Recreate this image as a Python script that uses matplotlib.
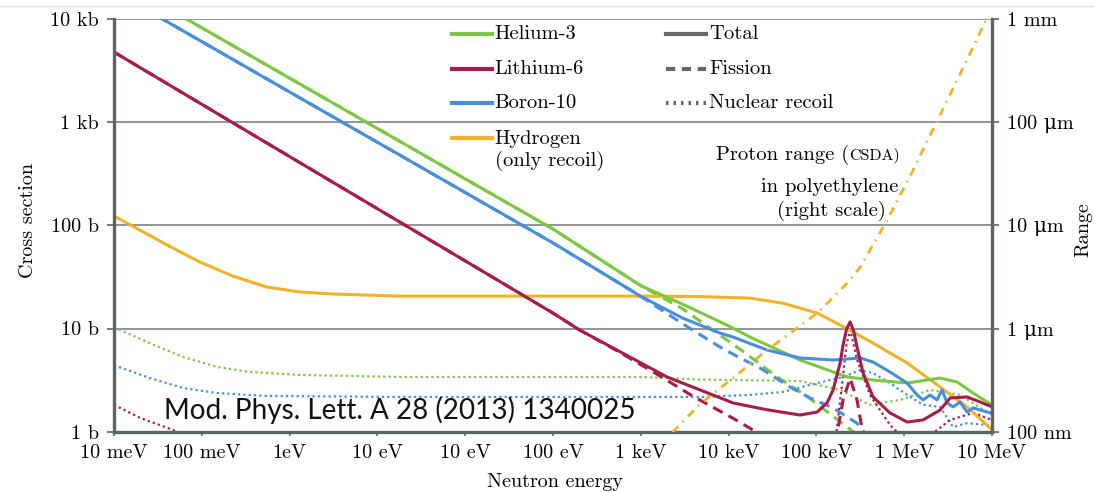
import matplotlib.pyplot as plt
from matplotlib.lines import Line2D
from matplotlib.ticker import NullLocator

plt.rcParams['font.family'] = ['cmr10', 'DejaVu Serif']
plt.rcParams['axes.formatter.use_mathtext'] = True

# ---------------- data (energies in eV on the plotted axis, cross sections in barn) ----------------
x_ticks = [1e-2, 1e-1, 1e0, 1e1, 1e2, 1e3, 1e4, 1e5, 1e6, 1e7, 1e8]
x_labels = ["10 meV", "100 meV", "1eV", "10 eV", "10 eV", "100 eV", "1 keV",
            "10 keV", "100 keV", "1 MeV", "10 MeV"]
y_ticks = [1, 10, 100, 1000, 10000]
y_labels = ["1 b", "10 b", "100 b", "1 kb", "10 kb"]
r_ticks = [0.1, 1, 10, 100, 1000]
r_labels = ["100 nm", "1 \u03bcm", "10 \u03bcm", "100 \u03bcm", "1 mm"]

he3_total_E = [0.01, 1, 100, 1000, 1e4, 3e4, 1e5, 1.75e5, 6.5e5, 2.23e6, 4.41e6,
               1.08e7, 1.82e7, 2.56e7, 4e7, 6.08e7, 1e8]
he3_total = [25300, 2670, 282, 92, 26, 17.2, 10.6, 8.27, 4.95, 3.39, 3.17,
             2.96, 3.17, 3.31, 3.03, 2.37, 1.81]
he3_fis_E = [0.01, 1, 100, 1000, 1e4, 3e4, 1.46e5, 3.56e5, 7.81e5, 1.86e6, 4.07e6]
he3_fis = [25300, 2670, 282, 92, 26, 15.5, 6.0, 3.4, 2.2, 1.25, 0.75]
he3_rec_E = [0.01, 0.0257, 0.0611, 0.149, 0.354, 1.31, 18.1, 1e4, 4.72e4, 6.5e5,
             1.86e6, 4.07e6, 8.95e6, 1.97e7, 4.32e7, 1e8]
he3_rec = [10.3, 7.19, 5.30, 4.24, 3.79, 3.55, 3.39, 3.39, 3.2, 3.1,
           2.54, 1.82, 2.03, 2.54, 2.27, 1.45]

li6_total_E = [0.01, 1, 100, 1000, 2000, 1.99e4, 4.72e4, 1.12e5, 2.74e5, 6.5e5,
               1.02e6, 1.32e6, 1.55e6, 1.86e6, 2.01e6, 2.2e6, 2.42e6, 2.65e6,
               2.9e6, 3.4e6, 4.41e6, 6.89e6, 1.08e7, 1.64e7, 2.56e7, 3.33e7,
               5.19e7, 7.3e7, 1e8]
li6_total = [4780, 464, 45.2, 14.1, 9.69, 3.39, 2.54, 1.90, 1.63, 1.45,
             1.55, 1.90, 2.54, 4.63, 6.92, 9.8, 11.6, 9.5,
             6.58, 3.71, 2.17, 1.52, 1.24, 1.30, 1.62, 2.12,
             2.17, 1.94, 1.74]
li6_fis_E = [0.01, 1, 100, 1000, 2000, 4.82e3, 1.38e4, 3.94e4, 1.12e5, 1.75e5,
             2.95e5, 6e5, 1.2e6, 1.67e6, 2.01e6, 2.42e6, 2.9e6, 3.48e6, 5e6]
li6_fis = [4780, 464, 45.2, 14.1, 9.69, 6.4, 3.8, 2.2, 1.35, 1.08,
           0.8, 0.45, 0.45, 0.83, 2.03, 3.29, 2.03, 0.83, 0.45]
li6_rec_E = [0.01, 0.0198, 0.047, 0.1, 1, 1e6, 1.67e6, 2.01e6, 2.2e6, 2.42e6,
             2.65e6, 2.9e6, 4.07e6, 6.89e6, 1.02e7, 1.5e7, 2.24e7, 3.33e7, 6.08e7, 1e8]
li6_rec = [1.82, 1.36, 1.04, 0.7, 0.3, 0.3, 0.9, 3.5, 7.0, 9.7,
           7.0, 5.0, 2.27, 1.16, 0.83, 0.8, 1.0, 1.3, 1.52, 1.30]

b10_total_E = [0.01, 1, 100, 1000, 1e4, 3e4, 7.98e4, 1.12e5, 2.74e5, 6.5e5,
               1.55e6, 3.14e6, 4.41e6, 6.89e6, 1.08e7, 1.4e7, 1.64e7, 1.97e7,
               2.36e7, 2.69e7, 3.07e7, 3.6e7, 4.32e7, 5.19e7, 6.08e7, 8.77e7, 1e8]
b10_total = [18600, 1960, 208, 67.5, 20.5, 12.6, 9.03, 8.27, 6.19, 5.18,
             4.95, 5.18, 4.73, 3.79, 2.96, 2.27, 2.03, 2.27,
             2.03, 2.54, 1.90, 1.74, 1.94, 1.55, 1.70, 1.55, 1.52]
b10_fis_E = [0.01, 1, 100, 1000, 1e4, 3e4, 7.98e4, 1.35e5, 2.28e5, 5.01e5,
             8.45e5, 1.55e6, 2.23e6, 2.9e6, 4.1e6]
b10_fis = [18600, 1960, 208, 67.5, 20.5, 11.1, 6.61, 5.18, 4.14, 2.71,
           2.12, 1.70, 1.39, 1.21, 0.83]
b10_rec_E = [0.01, 0.0257, 0.0611, 0.149, 0.553, 18.1, 4.72e4, 1.75e5, 4.17e5,
             1.02e6, 2.01e6, 3.14e6, 4.41e6, 6.89e6, 1.08e7, 1.64e7, 2.56e7,
             3.6e7, 5.19e7, 1e8]
b10_rec = [4.4, 3.31, 2.65, 2.37, 2.22, 2.17, 2.17, 2.27, 2.43,
           2.96, 3.39, 3.96, 3.70, 2.96, 2.27, 1.82, 1.74,
           1.11, 1.21, 1.15]

h_rec_E = [0.01, 0.0198, 0.0402, 0.0953, 0.226, 0.553, 1.31, 3.12, 18.1, 1e4,
           4.72e4, 1.75e5, 4.17e5, 1.02e6, 1.86e6, 4.41e6, 1.08e7, 2.56e7, 5.19e7, 1e8]
h_rec = [123, 89.7, 64.4, 44.0, 32.2, 25.2, 22.6, 21.6, 20.6, 20.6,
         20.4, 19.7, 17.6, 14.1, 10.8, 7.23, 4.63, 2.71, 1.74, 1.04]

# proton CSDA range in polyethylene, micrometres (right scale)
range_E = [1.5e4, 2.33e4, 4.72e4, 1.12e5, 2.74e5, 6.5e5, 1.02e6, 1.55e6, 2.23e6,
           3.14e6, 6.37e6, 1.23e7, 2.36e7, 4.55e7, 8.77e7, 1e8]
range_um = [0.07, 0.1, 0.185, 0.331, 0.619, 1.06, 1.41, 2.0, 2.75,
            3.9, 11.2, 32.8, 102, 320, 1021, 1300]

GREEN = '#7cc843'
RED = '#a51d48'
BLUE = '#4a8edb'
ORANGE = '#f1b22a'
AXIS = '#5b6565'
GRID = '#8f9595'
LEG = '#666666'

DASH = (0, (3.5, 2.2))
DOT = (0, (1, 1.4))
FS = 14.8

fig = plt.figure(figsize=(10.94, 4.92), dpi=100)
ax = fig.add_axes([0.1042, 0.1226, 0.8026, 0.8388])
ax.set_xscale('log')
ax.set_yscale('log')
ax.set_xlim(1e-2, 1e8)
ax.set_ylim(1, 1e4)

# recoil (dotted) first, then fission, then totals
ax.plot(he3_rec_E, he3_rec, color=GREEN, lw=1.6, ls=DOT)
ax.plot(b10_rec_E, b10_rec, color=BLUE, lw=1.6, ls=DOT)
ax.plot(li6_rec_E, li6_rec, color=RED, lw=1.6, ls=DOT)
ax.plot(he3_fis_E, he3_fis, color=GREEN, lw=2.2, ls=DASH)
ax.plot(b10_fis_E, b10_fis, color=BLUE, lw=2.2, ls=DASH)
ax.plot(li6_fis_E, li6_fis, color=RED, lw=2.2, ls=DASH)
ax.plot(h_rec_E, h_rec, color=ORANGE, lw=2.2)
ax.plot(he3_total_E, he3_total, color=GREEN, lw=2.2)
ax.plot(b10_total_E, b10_total, color=BLUE, lw=2.2)
ax.plot(li6_total_E, li6_total, color=RED, lw=2.2)

ax.set_xticks(x_ticks)
ax.set_xticklabels(x_labels)
ax.set_yticks(y_ticks)
ax.set_yticklabels(y_labels)
ax.xaxis.set_minor_locator(NullLocator())
ax.yaxis.set_minor_locator(NullLocator())
ax.tick_params(axis='x', length=3, width=1.2, color=AXIS, pad=6, labelsize=14.5)
ax.tick_params(axis='y', length=5, width=1.2, color=AXIS, pad=6, labelsize=14.5)
ax.grid(axis='y', color=GRID, lw=1.4)
ax.spines['top'].set_visible(False)
ax.spines['right'].set_visible(False)
for s in ['left', 'bottom']:
    ax.spines[s].set_color(AXIS)
    ax.spines[s].set_linewidth(2.4)

rax = ax.twinx()
rax.set_yscale('log')
rax.set_ylim(0.1, 1000)
rax.plot(range_E, range_um, color=ORANGE, lw=2.0, ls=(0, (3, 2.2, 0.6, 2.2)))
rax.set_yticks(r_ticks)
rax.set_yticklabels(r_labels)
rax.yaxis.set_minor_locator(NullLocator())
rax.tick_params(axis='y', length=5, width=1.2, color=AXIS, pad=6, labelsize=14.5)
for s in ['left', 'top', 'bottom']:
    rax.spines[s].set_visible(False)
rax.spines['right'].set_color(AXIS)
rax.spines['right'].set_linewidth(2.4)

# legend, drawn by hand so the two-line entry lines up like the original
col1 = [("Helium-3", GREEN), ("Lithium-6", RED), ("Boron-10", BLUE)]
rows = [0.9637, 0.8789, 0.7965]
for (lab, c), fy in zip(col1, rows):
    ax.plot([0.385, 0.4305], [fy, fy], color=c, lw=3, transform=ax.transAxes)
    ax.text(0.4335, fy, lab, transform=ax.transAxes, va='center', fontsize=FS)
ax.plot([0.385, 0.4305], [0.7117, 0.7117], color=ORANGE, lw=3, transform=ax.transAxes)
ax.text(0.4335, 0.7322, "Hydrogen\n(only recoil)", transform=ax.transAxes,
        va='top', fontsize=FS, linespacing=1.25)

col2 = [("Total", '-'), ("Fission", (0, (2.2, 1.6))), ("Nuclear recoil", (0, (0.6, 1.2)))]
for (lab, ls), fy in zip(col2, rows):
    ax.plot([0.6287, 0.6743], [fy, fy], color=LEG, lw=3, ls=ls, transform=ax.transAxes)
    ax.text(0.6777, fy, lab, transform=ax.transAxes, va='center', fontsize=FS)

# proton range annotation
fig.text(849 / 1094, 1 - 155 / 492, "Proton range (", ha='right', va='center', fontsize=FS)
fig.text(849 / 1094, 1 - 155 / 492, "CSDA)", ha='left', va='center', fontsize=11.5)
fig.text(830 / 1094, 1 - 187 / 492, "in polyethylene", ha='center', va='center', fontsize=FS)
fig.text(831 / 1094, 1 - 211 / 492, "(right scale)", ha='center', va='center', fontsize=FS)

fig.text(28 / 1094, 1 - 220 / 492, "Cross section", rotation=90, ha='center', va='center', fontsize=14.5)
fig.text(1083 / 1094, 1 - 230 / 492, "Range", rotation=90, ha='center', va='center', fontsize=14.5)
fig.text(555 / 1094, 1 - 482 / 492, "Neutron energy", ha='center', va='center', fontsize=14.5)

fig.text(400 / 1094, 1 - 410 / 492, "Mod. Phys. Lett. A 28 (2013) 1340025",
         ha='center', va='center', fontsize=20.1, family='Lato', color='#111111')

fig.add_artist(Line2D([0, 1], [1 - 6 / 492, 1 - 6 / 492], color='#e4e4e4', lw=1))

fig.savefig("out.png", dpi=100)
